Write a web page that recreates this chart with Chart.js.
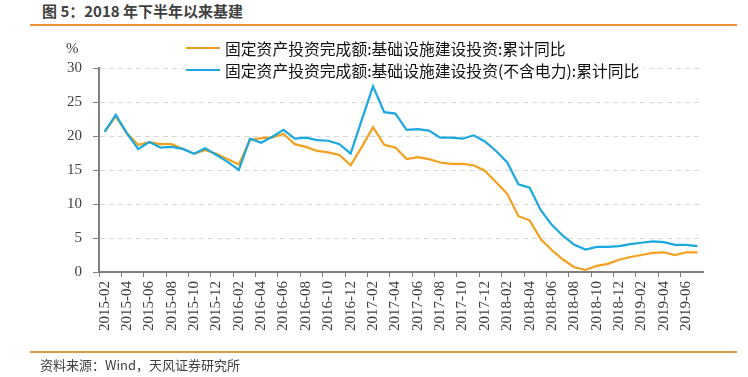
<!DOCTYPE html>
<html>
<head>
<meta charset="utf-8">
<script src="https://cdn.jsdelivr.net/npm/chart.js@4/dist/chart.umd.min.js"></script>
<style>
    body { margin: 0; background: #fff; }
    #wrap { position: relative; width: 748px; height: 377px; overflow: hidden; font-family: "Noto Sans CJK SC", sans-serif; }
    #chart { position: absolute; left: 0; top: 0; }
    .rule { position: absolute; left: 30px; width: 707px; height: 2px; }
    #title { position: absolute; left: 42px; top: 1px; font-size: 15px; font-weight: bold; color: #404040; line-height: 20px; }
    #unit { position: absolute; left: 66px; top: 40px; font-family: "Liberation Serif", serif; font-size: 15px; color: #404040; }
    #legend { position: absolute; left: 184px; top: 37px; background: #fff; padding-right: 4px; }
    .item { display: flex; align-items: center; height: 22px; font-size: 15.8px; color: #111; white-space: nowrap; }
    .swatch { width: 34px; height: 2px; margin-right: 5px; margin-left: 2px; }
    #source { position: absolute; left: 40px; top: 356px; font-size: 13px; color: #404040; line-height: 18px; }
</style>
</head>
<body>
<div id="wrap">
    <div id="title">图 5：2018 年下半年以来基建</div>
    <div class="rule" style="top:24px;background:#ED9236"></div>
    <canvas id="chart" width="748" height="377"></canvas>
    <div id="unit">%</div>
    <div id="legend"></div>
    <div class="rule" style="top:351px;background:#D29D4E"></div>
    <div id="source">资料来源：Wind，天风证券研究所</div>
</div>
<script>
const months = [
    '2015-02', '2015-03', '2015-04', '2015-05', '2015-06', '2015-07', '2015-08', '2015-09', '2015-10', '2015-11', '2015-12',
    '2016-01', '2016-02', '2016-03', '2016-04', '2016-05', '2016-06', '2016-07', '2016-08', '2016-09', '2016-10', '2016-11', '2016-12',
    '2017-01', '2017-02', '2017-03', '2017-04', '2017-05', '2017-06', '2017-07', '2017-08', '2017-09', '2017-10', '2017-11', '2017-12',
    '2018-01', '2018-02', '2018-03', '2018-04', '2018-05', '2018-06', '2018-07', '2018-08', '2018-09', '2018-10', '2018-11', '2018-12',
    '2019-01', '2019-02', '2019-03', '2019-04', '2019-05', '2019-06', '2019-07',
];

// 基础设施建设投资:累计同比
const infra = [
    20.6, 22.9, 20.4, 18.7, 19.1, 18.8, 18.8, 18.1, 17.4, 17.9, 17.4,
    16.6, 15.8, 19.4, 19.7, 19.8, 20.3, 18.8, 18.4, 17.8, 17.6, 17.2, 15.7,
    18.4, 21.3, 18.7, 18.3, 16.6, 16.9, 16.6, 16.1, 15.9, 15.9, 15.7, 14.9,
    13.2, 11.5, 8.2, 7.6, 4.8, 3.2, 1.8, 0.7, 0.3, 0.9, 1.2, 1.8,
    2.2, 2.5, 2.8, 2.9, 2.5, 2.9, 2.9,
];

// 基础设施建设投资(不含电力):累计同比
const infraExPower = [
    20.6, 23.1, 20.4, 18.1, 19.1, 18.3, 18.4, 18.1, 17.4, 18.2, 17.2,
    16.2, 15.0, 19.6, 19.0, 19.9, 20.9, 19.6, 19.75, 19.4, 19.3, 18.8, 17.4,
    22.4, 27.3, 23.5, 23.3, 20.9, 21.0, 20.8, 19.75, 19.75, 19.6, 20.1, 19.2,
    17.8, 16.1, 12.9, 12.4, 9.1, 6.9, 5.3, 4.0, 3.3, 3.7, 3.7, 3.8,
    4.1, 4.3, 4.5, 4.4, 4.0, 4.0, 3.8,
];

const seriesNames = [
    '固定资产投资完成额:基础设施建设投资:累计同比',
    '固定资产投资完成额:基础设施建设投资(不含电力):累计同比',
];

const yTicks = [0, 5, 10, 15, 20, 25, 30];

const serif = { family: '"Liberation Serif", "Times New Roman", serif', size: 15 };
const axisGrey = '#808080';

function lineDataset(label, data, color, order) {
    return {
        label,
        data,
        order,
        borderColor: color,
        backgroundColor: color,
        borderWidth: 2.2,
        pointRadius: 0,
        tension: 0,
        fill: false,
    };
}

const chart = new Chart(document.getElementById('chart'), {
    type: 'line',
    data: {
        labels: months,
        datasets: [
            lineDataset(seriesNames[0], infra, '#F2A01E', 1),
            lineDataset(seriesNames[1], infraExPower, '#1BA8DE', 0),
        ],
    },
    options: {
        responsive: false,
        animation: false,
        layout: { padding: { top: 68, right: 45, left: 0, bottom: 0 } },
        plugins: { legend: { display: false }, tooltip: { enabled: false } },
        scales: {
            x: {
                offset: true,
                afterFit(scale) { scale.height = 105; },
                grid: {
                    offset: true,
                    drawOnChartArea: false,
                    tickLength: 5,
                    color: (ctx) => (ctx.index % 2 === 0 ? axisGrey : 'rgba(0,0,0,0)'),
                },
                border: { color: axisGrey, width: 2 },
                ticks: {
                    autoSkip: false,
                    minRotation: 90,
                    maxRotation: 90,
                    padding: 4,
                    color: '#404040',
                    font: serif,
                    callback(value, index) {
                        return index % 2 === 0 ? months[index] : '';
                    },
                },
            },
            y: {
                min: 0,
                max: 30,
                afterFit(scale) { scale.width = 99; },
                afterBuildTicks(scale) { scale.ticks = yTicks.map((v) => ({ value: v })); },
                grid: {
                    color: '#D9D9D9',
                    lineWidth: 1,
                    tickLength: 6,
                    tickColor: axisGrey,
                    tickBorderDash: [],
                },
                border: { color: axisGrey, width: 2, dash: [5, 4] },
                ticks: { padding: 11, color: '#404040', font: serif },
            },
        },
    },
});

const legend = document.getElementById('legend');
chart.data.datasets.forEach((ds) => {
    const row = document.createElement('div');
    row.className = 'item';
    const sw = document.createElement('span');
    sw.className = 'swatch';
    sw.style.background = ds.borderColor;
    row.appendChild(sw);
    row.appendChild(document.createTextNode(ds.label));
    legend.appendChild(row);
});
</script>
</body>
</html>
